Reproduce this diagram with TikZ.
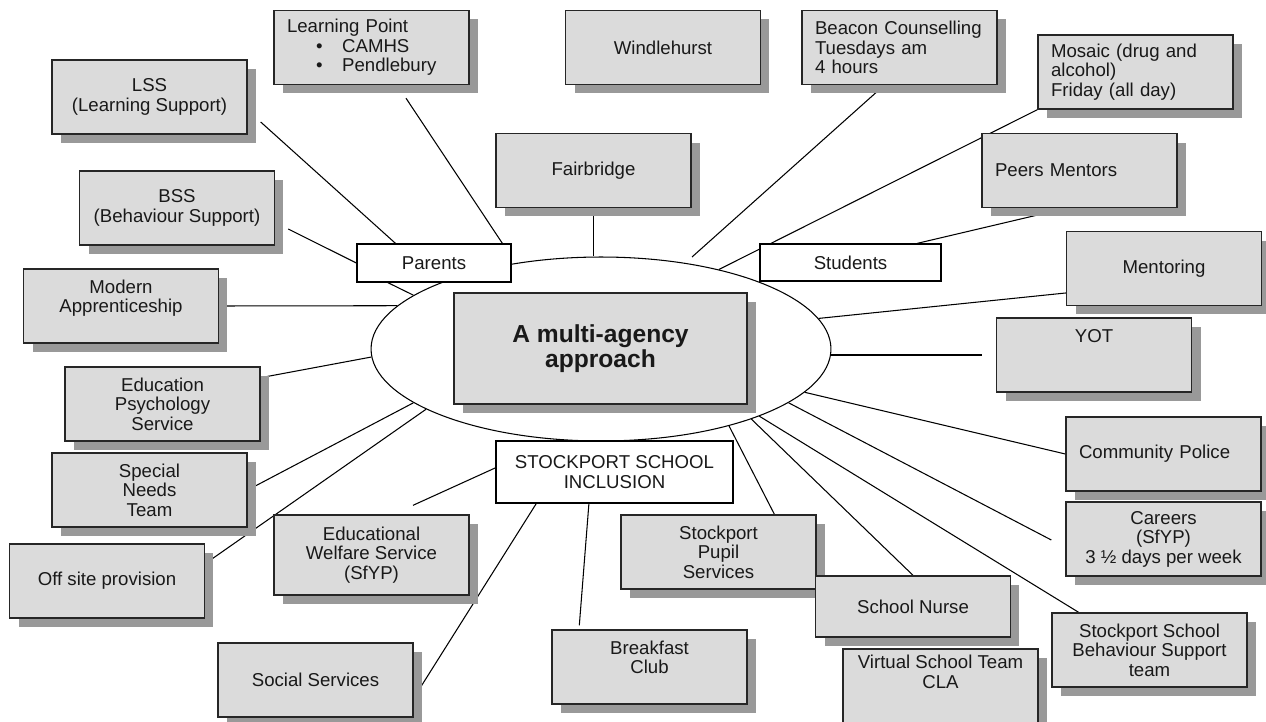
\documentclass[tikz,border=0pt]{standalone}
\usepackage{fontspec}
\setmainfont{Liberation Sans}
\usepackage{tikz}
\usetikzlibrary{calc}
\usetikzlibrary{positioning}
\usetikzlibrary{shapes.geometric, shadows, backgrounds}
\definecolor{boxgray}{gray}{0.86}
\definecolor{shadegray}{gray}{0.6}
\tikzstyle{agency} = [draw=black!85, line width=0.8pt, fill=boxgray, minimum width=3.9cm, minimum height=1.48cm, inner sep=0pt, align=center, drop shadow={shadow xshift=0.18cm, shadow yshift=-0.18cm, fill=shadegray, opacity=1}]
\tikzstyle{leftagency} = [agency, text width=3.38cm, align=left]
\tikzstyle{plainbox} = [draw=black, line width=0.7pt, fill=white, inner sep=0pt, align=center]
\tikzstyle{link} = [line width=0.6pt]

\begin{document}
\begin{tikzpicture}[x=0.02cm, y=-0.02cm, font=\fontsize{10.6}{11.1}\selectfont, text=black!90]
	\useasboundingbox (0,0) rectangle (1266,722);
	\node[ellipse, draw, line width=0.6pt, minimum width=9.2cm, minimum height=3.68cm, inner sep=0pt] (hub) at (601,349) {};
	\node[agency, minimum width=5.86cm, minimum height=2.22cm, font=\fontsize{14}{14.4}\selectfont\bfseries] (core) at (600.5,348.5) {A multi-agency\\approach};
	\node[leftagency] (lp) at (371.5,47.5) {Learning Point\\\hspace*{1.56em}•\hspace{1.05em}CAMHS\\\hspace*{1.56em}•\hspace{1.05em}Pendlebury};
	\node[agency] (windle) at (663,47.5) {Windlehurst};
	\node[leftagency] (beacon) at (899.5,47.5) {Beacon Counselling\\Tuesdays am\\4 hours};
	\node[agency] (lss) at (149.5,97) {LSS\\(Learning Support)};
	\node[leftagency] (mosaic) at (1135.5,72) {Mosaic (drug and\\alcohol)\\Friday (all day)};
	\node[agency] (fairbridge) at (593.5,170.5) {Fairbridge};
	\node[leftagency] (peers) at (1079.5,170.5) {Peers Mentors};
	\node[agency] (bss) at (177,208) {BSS\\(Behaviour Support)};
	\node[plainbox, minimum width=3.08cm, minimum height=0.76cm] (parents) at (434,263) {Parents};
	\node[plainbox, minimum width=3.62cm, minimum height=0.74cm] (students) at (850.5,262.5) {Students};
	\node[agency] (mentoring) at (1164,268.5) {Mentoring};
	\node[agency] (mapp) at (121,306) {Modern\\Apprenticeship\\~};
	\node[agency] (yot) at (1094,355) {YOT\\~\\~};
	\node[agency] (eps) at (162.5,404) {Education\\Psychology\\Service};
	\node[leftagency] (cpolice) at (1163.5,454) {Community Police};
	\node[plainbox, minimum width=4.74cm, minimum height=1.24cm] (ssi) at (614.5,472) {STOCKPORT SCHOOL\\INCLUSION};
	\node[agency] (sneeds) at (149.5,490) {Special\\Needs\\Team};
	\node[agency] (careers) at (1163.5,539) {Careers\\(SfYP)\\3 ½ days per week};
	\node[agency] (spupil) at (718.5,552) {Stockport\\Pupil\\Services};
	\node[agency, minimum height=1.6cm] (ews) at (371.5,555) {Educational\\Welfare Service\\(SfYP)};
	\node[agency] (offsite) at (107,581) {Off site provision};
	\node[agency, minimum height=1.22cm] (nurse) at (913,606.5) {School Nurse};
	\node[agency] (sbs) at (1149.5,650) {Stockport School\\Behaviour Support\\team};
	\node[agency] (breakfast) at (649.5,667) {Breakfast\\Club\\~};
	\node[agency] (social) at (315.5,680) {Social Services};
	\node[agency, minimum height=1.68cm] (virtual) at (940.5,691) {Virtual School Team\\CLA\\~\\~};
	\coordinate (beaconend) at (692,257);
	\begin{scope}[on background layer]
		\draw[link] ($(lss.east)+(13,25)$) -- (parents.153);
		\draw[link] ($(lp.south)+(34.5,13)$) -- (parents.16);
		\draw[link] ($(bss.east)+(13,21)$) -- (parents.west);
		\draw[link] (parents.203) -- (hub.164);
		\draw[link] (fairbridge.south) -- (fairbridge.south |- hub.north);
		\draw[link] (beacon.248) -- (beaconend);
		\draw[link] (mosaic.south west) -- (hub.34);
		\draw[link] (peers.251) -- (students.16);
		\draw[link] (mentoring.194) -- (hub.8);
		\draw[link] ($(yot.west)+(-14,0)$) -- (hub.east |- yot.west);
		\draw[link] (cpolice.west) -- (hub.348);
		\draw[link] ($(careers.west)+(-14,1)$) -- (hub.344);
		\draw[link] (sbs.152) -- (hub.337);
		\draw[link] (nurse.north) -- (hub.335);
		\draw[link] (spupil.34) -- (hub.329);
		\draw[link] (ssi.231) -- ($(breakfast.north west)+(28,-4)$);
		\draw[link] ($(social.east)+(7,7)$) -- (ssi.202);
		\draw[link] ($(ews.north)+(41.5,-9)$) -- (ssi.178);
		\draw[link] (offsite.10) -- (hub.199);
		\draw[link] (sneeds.east) -- (hub.196);
		\draw[link] (eps.15) -- (hub.182);
		\draw[link] (mapp.east) -- (hub.168);
	\end{scope}
\end{tikzpicture}
\end{document}
